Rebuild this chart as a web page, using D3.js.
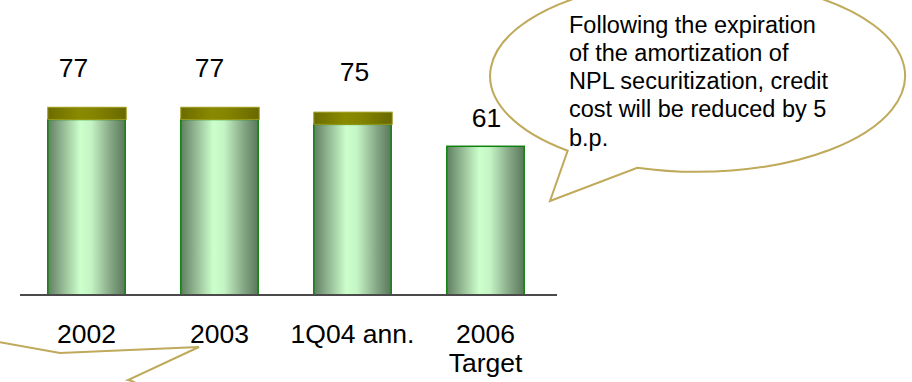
<!DOCTYPE html>
<html>
<head>
<meta charset="utf-8">
<script src="https://cdn.jsdelivr.net/npm/d3@7"></script>
<style>
  html, body { margin: 0; padding: 0; background: #fff; }
  svg { display: block; }
  text { font-family: "Liberation Sans", Arial, Helvetica, sans-serif; fill: #000; }
</style>
</head>
<body>
<svg id="chart" width="912" height="382"></svg>
<script>
// Credit cost (b.p.) by period
const categories = ["2002", "2003", "1Q04 ann.", "2006 Target"];
const categoryLines = [["2002"], ["2003"], ["1Q04 ann."], ["2006", "Target"]];
const baseCost = [72, 72, 70, 61];          // core credit cost
const nplAmortization = [5, 5, 5, 0];       // amortization of NPL securitization
const calloutLines = [
  "Following the expiration",
  "of the amortization of",
  "NPL securitization, credit",
  "cost will be reduced by 5",
  "b.p."
];

// Layout
const W = 912, H = 382;
const baselineY = 295;
const pxPerUnit = 2.438;
const labelNudge = [[-13, -30], [-10, -30], [2, -31], [1, -19]];
const tan = "#bfa95a";

const svg = d3.select("#chart");
const defs = svg.append("defs");

// Cylinder-like shading for the bar body
const bodyGrad = defs.append("linearGradient").attr("id", "bodyGrad")
  .attr("x1", "0%").attr("x2", "100%").attr("y1", "0%").attr("y2", "0%");
[[0, "#5f805f"], [0.14, "#86a886"], [0.42, "#ccffcc"], [0.56, "#c4f4c4"],
 [0.8, "#88aa88"], [1, "#5a785a"]].forEach(([o, c]) =>
  bodyGrad.append("stop").attr("offset", o).attr("stop-color", c));

// Shading for the olive cap segment
const capGrad = defs.append("linearGradient").attr("id", "capGrad")
  .attr("x1", "0%").attr("x2", "100%").attr("y1", "0%").attr("y2", "0%");
[[0, "#6c6c00"], [0.4, "#8a8a00"], [0.6, "#848400"], [1, "#686800"]].forEach(([o, c]) =>
  capGrad.append("stop").attr("offset", o).attr("stop-color", c));

const x = d3.scaleBand()
  .domain(categories)
  .range([20, 552])
  .paddingInner(0.418)
  .paddingOuter(0.209);

const y = d3.scaleLinear()
  .domain([0, 80])
  .range([baselineY, baselineY - 80 * pxPerUnit]);

const rows = categories.map((c, i) => ({
  cat: c, base: baseCost[i], amort: nplAmortization[i], total: baseCost[i] + nplAmortization[i]
}));

// Callout bubble (right)
const cx = 700.5, cy = 77, rx = 207.5, ry = 96;
svg.append("path")
  .attr("d", `M637.3,167.7 A${rx},${ry} 0 1 0 567.7,150.7 L550,201 Z`)
  .attr("fill", "#fff").attr("stroke", tan).attr("stroke-width", 2)
  .attr("stroke-linejoin", "miter");

// Callout tail (lower left, bubble continues below)
svg.append("path")
  .attr("d", "M-2,342 L60,353 L199,347 L128,380 Q134,381 140,386")
  .attr("fill", "none").attr("stroke", tan).attr("stroke-width", 2);

// Bar bodies
const g = svg.append("g");
g.selectAll("rect.body").data(rows).join("rect")
  .attr("class", "body")
  .attr("x", d => x(d.cat))
  .attr("width", x.bandwidth())
  .attr("y", d => y(d.base))
  .attr("height", d => y(0) - y(d.base))
  .attr("fill", "url(#bodyGrad)")
  .attr("stroke", "#0d820d").attr("stroke-width", 1.5);

// Cap segments (NPL amortization)
g.selectAll("rect.cap").data(rows.filter(d => d.amort > 0)).join("rect")
  .attr("class", "cap")
  .attr("x", d => x(d.cat))
  .attr("width", x.bandwidth() + 1)
  .attr("y", d => y(d.total))
  .attr("height", d => y(d.base) - y(d.total))
  .attr("fill", "url(#capGrad)")
  .attr("stroke", "#9c9a18").attr("stroke-width", 1);

// Axis baseline
svg.append("line")
  .attr("x1", x.range()[0]).attr("x2", x.range()[1] + 5)
  .attr("y1", baselineY).attr("y2", baselineY)
  .attr("stroke", "#4a4a4a").attr("stroke-width", 2);

// Value labels
svg.selectAll("text.val").data(rows).join("text")
  .attr("class", "val")
  .attr("x", (d, i) => x(d.cat) + x.bandwidth() / 2 + labelNudge[i][0])
  .attr("y", (d, i) => y(d.total) + labelNudge[i][1])
  .attr("text-anchor", "middle")
  .style("font-size", "26.5px")
  .text(d => d.total);

// Category labels
svg.selectAll("text.cat").data(rows).join("text")
  .attr("class", "cat")
  .attr("x", d => x(d.cat) + x.bandwidth() / 2)
  .attr("y", 343)
  .attr("text-anchor", "middle")
  .style("font-size", "26.5px")
  .selectAll("tspan").data((d, i) => categoryLines[i]).join("tspan")
  .attr("x", function () { return this.parentNode.getAttribute("x"); })
  .attr("dy", (d, i) => i === 0 ? 0 : 29)
  .text(d => d);

// Callout text
svg.append("text")
  .attr("x", 569).attr("y", 32.7)
  .style("font-size", "23.5px")
  .selectAll("tspan").data(calloutLines).join("tspan")
  .attr("x", 569)
  .attr("dy", (d, i) => i === 0 ? 0 : 28.25)
  .text(d => d);
</script>
</body>
</html>
